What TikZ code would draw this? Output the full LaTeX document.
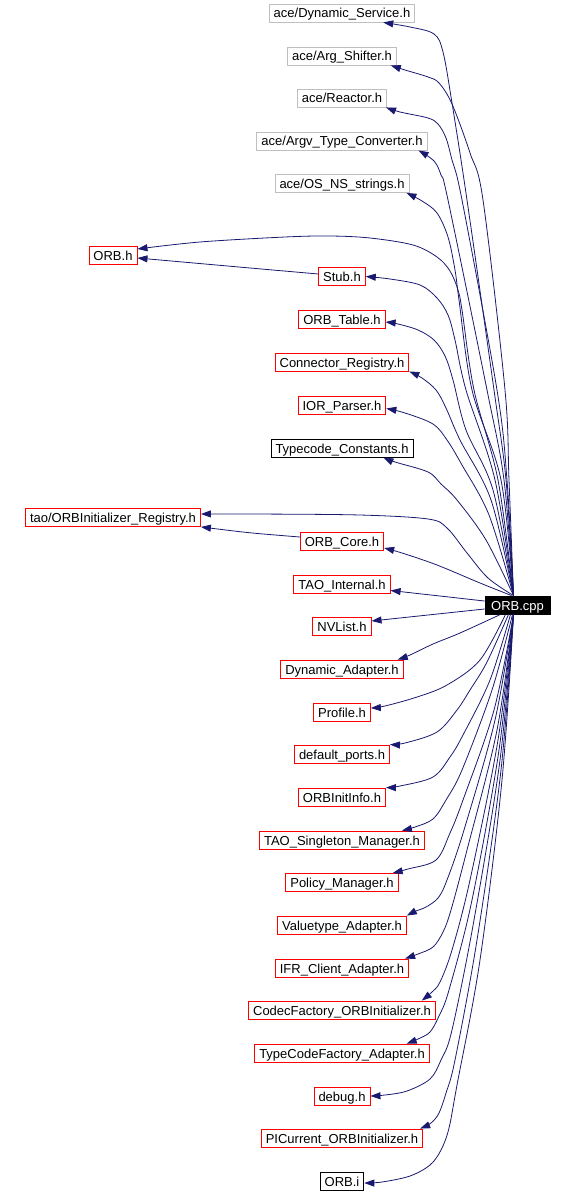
\documentclass[tikz,border=0pt]{standalone}
\usepackage{fontspec}
\setmainfont{Liberation Sans}
\usetikzlibrary{arrows.meta}
\definecolor{depblue}{RGB}{25,25,112}
\definecolor{acegray}{RGB}{191,191,191}
\definecolor{hdrred}{RGB}{255,0,0}
\tikzset{hdr/.style={draw,line width=0.9pt,inner xsep=4.5pt,inner ysep=0pt,
  minimum height=18pt,text height=10pt,text depth=0pt,font=\fontsize{13}{15}\selectfont},
 acehdr/.style={hdr,draw=acegray},
 redhdr/.style={hdr,draw=hdrred},
 blkhdr/.style={hdr,draw=black},
 dep/.style={draw=depblue,line width=0.8pt,-{Triangle[length=10pt,width=7pt]}},
 depplot/.style={smooth,tension=0.55}}

\begin{document}
\begin{tikzpicture}[x=1pt,y=-1pt]
\useasboundingbox (0,0) rectangle (574,1193);
% source file
\node[hdr,fill=black,text=white,minimum width=65pt] (cpp) at (517.5,605) {ORB.cpp};
% headers above
\node[acehdr] (dyn) at (342,13) {ace/Dynamic\_Service.h};
\node[acehdr] (arg) at (342,56) {ace/Arg\_Shifter.h};
\node[acehdr] (rea) at (342,98) {ace/Reactor.h};
\node[acehdr] (argv) at (342,141) {ace/Argv\_Type\_Converter.h};
\node[acehdr] (osns) at (342,183.5) {ace/OS\_NS\_strings.h};
\node[redhdr] (orbh) at (113,255) {ORB.h};
\node[redhdr] (stub) at (342,276.5) {Stub.h};
\node[redhdr] (orbtab) at (342,319.5) {ORB\_Table.h};
\node[redhdr] (conreg) at (342,362) {Connector\_Registry.h};
\node[redhdr] (iorp) at (342,405) {IOR\_Parser.h};
\node[blkhdr] (tcc) at (342,448) {Typecode\_Constants.h};
\node[redhdr] (tao) at (113,517.5) {tao/ORBInitializer\_Registry.h};
\node[redhdr] (orbcore) at (342,541) {ORB\_Core.h};
\node[redhdr] (taoint) at (342,584) {TAO\_Internal.h};
% headers below
\node[redhdr] (nvl) at (342,626) {NVList.h};
\node[redhdr] (dyna) at (342,669) {Dynamic\_Adapter.h};
\node[redhdr] (prof) at (342,712) {Profile.h};
\node[redhdr] (defp) at (342,754) {default\_ports.h};
\node[redhdr] (oii) at (342,797) {ORBInitInfo.h};
\node[redhdr] (tsm) at (342,840) {TAO\_Singleton\_Manager.h};
\node[redhdr] (polm) at (342,882.5) {Policy\_Manager.h};
\node[redhdr] (vta) at (342,925) {Valuetype\_Adapter.h};
\node[redhdr] (ifr) at (342,968) {IFR\_Client\_Adapter.h};
\node[redhdr] (cfi) at (342,1010) {CodecFactory\_ORBInitializer.h};
\node[redhdr] (tcf) at (342,1053) {TypeCodeFactory\_Adapter.h};
\node[redhdr] (dbg) at (342,1096) {debug.h};
\node[redhdr] (pic) at (342,1138) {PICurrent\_ORBInitializer.h};
\node[blkhdr] (orbi) at (342,1181) {ORB.i};
% includes going up
\draw[dep] plot[depplot] coordinates {([xshift=-4pt]cpp.north) (506,480) (494,390) (467,200) (452,103) (443,52) (434,34) (410,27) ([xshift=-32pt]dyn.south east)};
\draw[dep] plot[depplot] coordinates {([xshift=-4pt]cpp.north) (509,480) (505,390) (483,200) (470,153) (452,104) (439,83) (428,77) (405,70) ([xshift=-6pt]arg.south east)};
\draw[dep] plot[depplot] coordinates {([xshift=-4pt]cpp.north) (507,480) (497,390) (462,200) (452,160) (446,138) (438,124) (428,118) (400,112) ([xshift=-1pt]rea.south east)};
\draw[dep] plot[depplot] coordinates {([xshift=-4pt]cpp.north) (504,480) (487,390) (448,200) (441,175) (434,161) ([xshift=-9pt]argv.south east)};
\draw[dep] plot[depplot] coordinates {([xshift=-4pt]cpp.north) (501,480) (472,390) (459,300) (455,270) (448,237) (437,213) (422,201) ([xshift=-3pt]osns.south east)};
\draw[dep] plot[depplot] coordinates {([xshift=-4pt]cpp.north) (498,480) (474,390) (462,310) (458,290) (450,271) (437,257) (413,245) (370,238) (330,236) (285,237) (200,242) ([yshift=6pt]orbh.east)};
\draw[dep] plot[depplot] coordinates {([xshift=-4pt]cpp.north) (495,480) (466,390) (455,340) (448,315) (437,298) (420,285) (390,279) (stub.east)};
\draw[dep] plot[depplot] coordinates {([xshift=-4pt]cpp.north) (493,490) (466,430) (453,380) (445,356) (434,340) (418,330) (398,324) ([yshift=-2.5pt]orbtab.east)};
\draw[dep] plot[depplot] coordinates {([xshift=-4pt]cpp.north) (491,500) (460,440) (446,408) (436,390) (422,378) (conreg.south east)};
\draw[dep] plot[depplot] coordinates {([xshift=-4pt]cpp.north) (489,515) (462,465) (447,440) (433,424) (405,413) ([yshift=-3.5pt]iorp.east)};
\draw[dep] plot[depplot] coordinates {([xshift=-4pt]cpp.north) (486,540) (457,500) (441,484) (428,472) (395,462) ([xshift=-30pt]tcc.south east)};
\draw[dep] plot[depplot] coordinates {([xshift=-4pt]cpp.north) (488,578) (467,553) (447,528) (428,519) (360,515) (252,514) ([yshift=3.5pt]tao.east)};
\draw[dep] plot[depplot] coordinates {([xshift=-6pt]cpp.north) (480,583) (437,565) (402,553) ([yshift=-7pt]orbcore.east)};
\draw[dep] ([yshift=4pt]cpp.west) -- ([yshift=-6.5pt]taoint.east);
\draw[dep] ([yshift=-4pt]cpp.west) -- ([yshift=5pt]nvl.east);
% indirect includes
\draw[dep] ([yshift=2.5pt]stub.west) .. controls (250,268) .. ([yshift=-3pt]orbh.east);
\draw[dep] ([yshift=4pt]orbcore.west) .. controls (250,533) .. (tao.south east);
% includes going down
\draw[dep] plot[depplot] coordinates {([xshift=-17pt]cpp.south) (460,633) (433,644) (410,655) ([xshift=-6pt]dyna.north east)};
\draw[dep] plot[depplot] coordinates {([xshift=-12pt]cpp.south) (480,660) (447,685) (417,697) (385,706) ([yshift=4pt]prof.east)};
\draw[dep] plot[depplot] coordinates {([xshift=-9pt]cpp.south) (487,662) (470,690) (457,710) (437,732) (405,743) (defp.north east)};
\draw[dep] plot[depplot] coordinates {([xshift=-7pt]cpp.south) (490,680) (463,735) (450,757) (433,777) (400,786) (oii.north east)};
\draw[dep] plot[depplot] coordinates {([xshift=-5pt]cpp.south) (492,690) (462,770) (446,800) (433,819) (415,827) ([xshift=-23pt]tsm.north east)};
\draw[dep] plot[depplot] coordinates {([xshift=-4pt]cpp.south) (494,710) (463,800) (450,833) (436,860) (408,869) ([xshift=-6pt]polm.north east)};
\draw[dep] plot[depplot] coordinates {([xshift=-4pt]cpp.south) (495,720) (464,830) (447,880) (438,898) (426,907) (416,911) (vta.north east)};
\draw[dep] plot[depplot] coordinates {([xshift=-4pt]cpp.south) (497,730) (467,850) (451,910) (443,932) (433,947) (418,954) ([xshift=-4pt]ifr.north east)};
\draw[dep] plot[depplot] coordinates {([xshift=-4pt]cpp.south) (498,740) (470,880) (452,950) (440,982) (432,992) ([xshift=-14pt]cfi.north east)};
\draw[dep] plot[depplot] coordinates {([xshift=-4pt]cpp.south) (499,750) (472,900) (449,990) (439,1016) (430,1032) (418,1039) ([xshift=-23pt]tcf.north east)};
\draw[dep] plot[depplot] coordinates {([xshift=-4pt]cpp.south) (500,760) (474,920) (452,1030) (441,1060) (430,1079) (407,1091) (385,1095) (dbg.east)};
\draw[dep] plot[depplot] coordinates {([xshift=-4pt]cpp.south) (501,770) (477,940) (455,1060) (446,1093) (439,1113) (431,1123) ([xshift=-3pt]pic.north east)};
\draw[dep] plot[depplot] coordinates {([xshift=-4pt]cpp.south) (502,780) (480,960) (457,1085) (449,1128) (441,1150) (430,1165) (410,1176) (382,1182) ([yshift=-2pt]orbi.east)};
\end{tikzpicture}
\end{document}
